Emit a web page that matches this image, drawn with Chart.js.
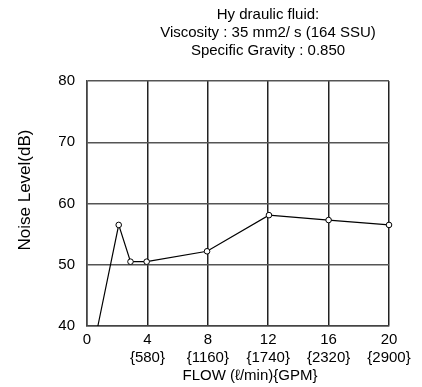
<!DOCTYPE html>
<html>
<head>
<meta charset="utf-8">
<script src="https://cdn.jsdelivr.net/npm/chart.js@4/dist/chart.umd.min.js"></script>
<style>
  html,body{margin:0;padding:0;background:#fff;}
  #wrap{width:422px;height:387px;}
</style>
</head>
<body>
<div id="wrap"><canvas id="cv" width="422" height="387"></canvas></div>
<script>
// values
const titleLines = ['Hy draulic fluid:', 'Viscosity : 35 mm2/ s (164 SSU)', 'Specific Gravity : 0.850'];
const xTitle = 'FLOW (ℓ/min){GPM}';
const yTitle = 'Noise Level(dB)';
const flowLpm = [0.72, 2.1, 2.88, 3.95, 7.95, 12.05, 16, 20];
const noiseDb = [40, 56.5, 50.5, 50.5, 52.2, 58.1, 57.3, 56.5];
const xTicks = [0, 4, 8, 12, 16, 20];
const gpmLabels = ['', '{580}', '{1160}', '{1740}', '{2320}', '{2900}'];
const yTicks = [40, 50, 60, 70, 80];

const FONT = 'Liberation Sans, Arial, sans-serif';

// heading and axis titles sit off-centre in the original, so place them by hand
const textPlugin = {
  id: 'texts',
  afterDraw(chart){
    const c = chart.ctx;
    c.save();
    c.fillStyle = '#000';
    c.textAlign = 'center';
    c.textBaseline = 'alphabetic';
    c.font = '15px ' + FONT;
    const ys = [18.5, 37, 55];
    titleLines.forEach((t,i)=>c.fillText(t, 268, ys[i]));
    c.textBaseline = 'middle';
    c.fillText(xTitle, 250, 376);
    c.translate(25, 190);
    c.rotate(-Math.PI/2);
    c.font = '17px ' + FONT;
    c.fillText(yTitle, 0, 0);
    c.restore();
  }
};

const pts = flowLpm.map((x,i)=>({x, y:noiseDb[i]}));

new Chart(document.getElementById('cv'), {
  type:'line',
  data:{ datasets:[{
    data:pts,
    borderColor:'#000', borderWidth:1.2,
    pointRadius:pts.map((p,i)=>i===0?0:2.8),
    pointBackgroundColor:'#fff', pointBorderColor:'#000', pointBorderWidth:1,
    tension:0, clip:false
  }]},
  plugins:[textPlugin],
  options:{
    responsive:false, animation:false,
    layout:{ padding:{ top:81, right:33, left:0, bottom:0 } },
    plugins:{ legend:{display:false}, tooltip:{enabled:false} },
    scales:{
      x:{
        type:'linear', min:0, max:20,
        afterBuildTicks(s){ s.ticks = xTicks.map(v=>({value:v})); },
        afterFit(s){ s.height = 61; },
        grid:{ color:'#222', lineWidth:1.5, drawTicks:false },
        border:{ color:'#444', width:1.5 },
        ticks:{
          color:'#000', padding:4, maxRotation:0, autoSkip:false,
          font:{ family:FONT, size:15, lineHeight:1.25 },
          callback:(v)=>{ const i = xTicks.indexOf(v); return gpmLabels[i] ? [String(v), gpmLabels[i]] : String(v); }
        }
      },
      y:{
        min:40, max:80,
        afterBuildTicks(s){ s.ticks = yTicks.map(v=>({value:v})); },
        afterFit(s){ s.width = 87; },
        grid:{ color:'#555', lineWidth:1.5, drawTicks:false },
        border:{ color:'#444', width:1.5 },
        ticks:{ color:'#000', padding:12, font:{ family:FONT, size:15 } }
      }
    }
  }
});
</script>
</body>
</html>
